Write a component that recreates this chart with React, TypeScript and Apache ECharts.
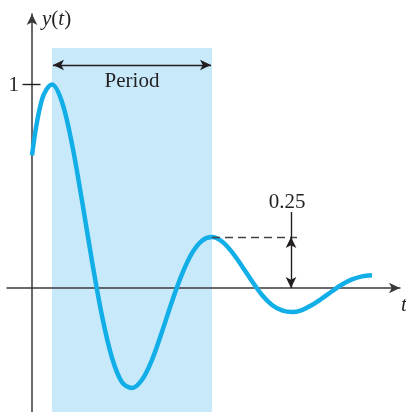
import React, { useEffect, useRef } from "react";
import * as echarts from "echarts";

// sample times (t) and response values y(t)
const tValues = [0, 1, 2, 3, 4, 5, 6, 7, 8, 9, 10, 11, 12, 13, 14, 15, 16, 17, 18, 19, 20, 21, 22, 23, 24, 25, 26, 27, 28, 29, 30, 31, 32, 33, 34];
const yValues = [0.65, 0.925, 0.998, 0.912, 0.705, 0.428, 0.132, -0.136, -0.342, -0.462, -0.49, -0.45, -0.352, -0.214, -0.066, 0.068, 0.171, 0.232, 0.25, 0.228, 0.176, 0.107, 0.033, -0.034, -0.083, -0.11, -0.118, -0.108, -0.083, -0.051, -0.016, 0.017, 0.042, 0.057, 0.063];

// period window and annotation values
const periodRange = [2, 18];
const shadeTop = 1.176;
const periodArrowY = 1.093;
const periodArrowRange = [2.1, 17.9];
const secondPeak = 0.25;
const dashEndT = 26.5;
const overshootT = 25.9;
const overshootTop = 0.3725;
const yTickValues = [1];

const X_MIN = -2.5;
const X_MAX = 36.8;
const Y_MIN = -0.6078;
const Y_MAX = 1.3431;

const SERIF = "'Liberation Serif', 'Times New Roman', serif";
const INK = "#231f20";
const AXIS = "#3a3a3a";
const CURVE = "#12aee8";
const SHADE = "#c7e9fa";

export default function App() {
  const ref = useRef<HTMLDivElement>(null);
  useEffect(() => {
    if (!ref.current) return;
    const chart = echarts.init(ref.current, null, { renderer: "svg" });
    const data = tValues.map((t, i) => [t, yValues[i]]);
    chart.setOption({
      animation: false,
      grid: { left: 7, right: 6, top: 14, bottom: 0, containLabel: false, outerBoundsMode: "none" },
      xAxis: {
        type: "value",
        min: X_MIN,
        max: X_MAX,
        z: 1,
        axisLine: {
          onZero: true,
          symbol: ["none", "arrow"],
          symbolSize: [8, 11],
          lineStyle: { color: AXIS, width: 1.5 },
        },
        axisTick: { show: false },
        axisLabel: { show: false },
        splitLine: { show: false },
      },
      yAxis: {
        type: "value",
        min: Y_MIN,
        max: Y_MAX,
        z: 1,
        offset: X_MIN * 10,
        axisLine: {
          onZero: false,
          symbol: ["none", "arrow"],
          symbolSize: [8, 11],
          lineStyle: { color: AXIS, width: 1.5 },
        },
        axisTick: { show: false },
        axisLabel: {
          show: true,
          customValues: yTickValues,
          margin: 13,
          fontFamily: SERIF,
          fontSize: 21,
          color: INK,
        },
        splitLine: { show: false },
      },
      series: [
        {
          type: "line",
          z: 0,
          data: [],
          silent: true,
          markArea: {
            silent: true,
            itemStyle: { color: SHADE, opacity: 1 },
            data: [[{ coord: [periodRange[0], shadeTop] }, { coord: [periodRange[1], Y_MIN] }]],
          },
        },
        {
          type: "line",
          z: 3,
          data,
          smooth: 0.35,
          showSymbol: false,
          lineStyle: { color: CURVE, width: 4.5 },
          silent: true,
        },
        {
          type: "line",
          z: 4,
          data: [],
          silent: true,
          markLine: {
            silent: true,
            animation: false,
            label: { show: false },
            symbol: ["none", "none"],
            lineStyle: { color: INK, width: 1.4, type: "solid" },
            data: [
              // tick at y = 1
              [{ coord: [-0.95, yTickValues[0]] }, { coord: [0.85, yTickValues[0]] }],
              // period arrow
              [
                { coord: [periodArrowRange[0], periodArrowY], symbol: "arrow", symbolSize: [8, 11] },
                { coord: [periodArrowRange[1], periodArrowY], symbol: "arrow", symbolSize: [8, 11] },
              ],
              // dashed level of second peak
              [
                { coord: [periodRange[1], secondPeak], lineStyle: { type: [8, 5], color: "#444", width: 1.3 } },
                { coord: [dashEndT, secondPeak] },
              ],
              // vertical line above arrow
              [{ coord: [overshootT, overshootTop] }, { coord: [overshootT, secondPeak] }],
              // double arrow 0 .. 0.25
              [
                { coord: [overshootT, 0], symbol: "arrow", symbolSize: [8, 11] },
                { coord: [overshootT, secondPeak], symbol: "arrow", symbolSize: [8, 11] },
              ],
            ],
          },
        },
      ],
      graphic: [
        {
          type: "text",
          x: 42,
          y: 18,
          z: 20,
          style: {
            text: "{i|y}({i|t})",
            fontFamily: SERIF,
            fontSize: 21,
            fill: INK,
            align: "left",
            verticalAlign: "middle",
            rich: { i: { fontStyle: "italic", fontFamily: SERIF, fontSize: 21, fill: INK } },
          },
        },
        {
          type: "text",
          x: 132,
          y: 80,
          z: 20,
          style: { text: "Period", fontFamily: SERIF, fontSize: 21, fill: INK, align: "center", verticalAlign: "middle" },
        },
        {
          type: "text",
          x: 287,
          y: 201,
          z: 20,
          style: { text: "0.25", fontFamily: SERIF, fontSize: 21, fill: INK, align: "center", verticalAlign: "middle" },
        },
        {
          type: "text",
          x: 401,
          y: 304,
          z: 20,
          style: { text: "t", fontFamily: SERIF, fontStyle: "italic", fontSize: 21, fill: INK, align: "left", verticalAlign: "middle" },
        },
      ],
    });
    return () => chart.dispose();
  }, []);
  return <div ref={ref} style={{ position: "fixed", left: 0, top: 0, width: 406, height: 412 }} />;
}
